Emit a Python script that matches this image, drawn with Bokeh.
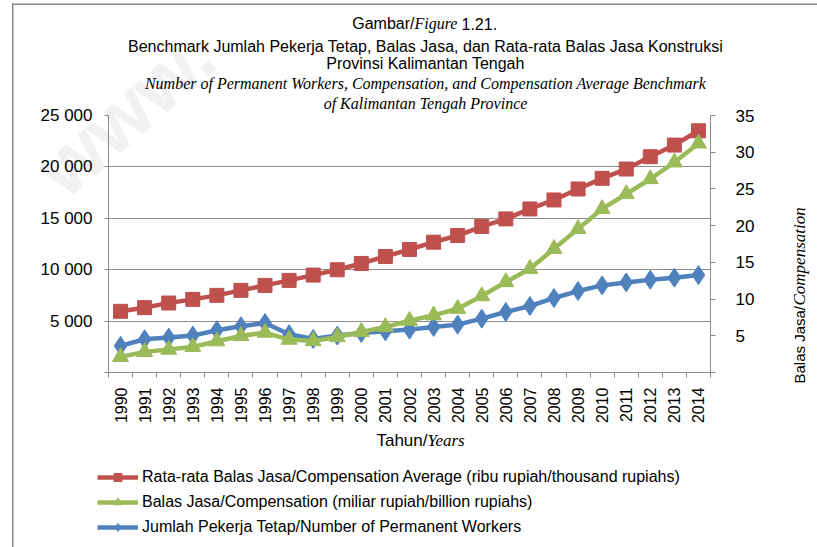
import math
from bokeh.plotting import figure
from bokeh.models import (Range1d, LinearAxis, FixedTicker, Legend, LegendItem,
                          Label, BoxAnnotation)
from bokeh.embed import file_html
from bokeh.resources import INLINE

# ---------------- data ----------------
years = list(range(1990, 2015))
avg_comp = [5951, 6307, 6760, 7115, 7503, 7989, 8474, 8959, 9476, 9994,
            10608, 11287, 11967, 12678, 13325, 14198, 14942, 15912, 16785, 17853,
            18888, 19793, 20990, 22122, 23512]
compensation = [2.13, 2.81, 3.12, 3.49, 4.26, 4.98, 5.43, 4.48, 4.30, 4.84,
                 5.52, 6.20, 7.06, 7.79, 8.69, 10.41, 12.32, 14.13, 16.84, 19.56,
                 22.28, 24.31, 26.35, 28.62, 31.20]
workers = [2587, 3234, 3396, 3590, 4107, 4495, 4819, 3719, 3266, 3590,
           3849, 4010, 4172, 4431, 4657, 5239, 5886, 6468, 7245, 7924,
           8474, 8765, 9023, 9217, 9476]

left_ticks = [0, 5000, 10000, 15000, 20000, 25000]
left_tick_labels = ["", "5 000", "10 000", "15 000", "20 000", "25 000"]
right_ticks = [0, 5, 10, 15, 20, 25, 30, 35]
right_tick_labels = ["", "5", "10", "15", "20", "25", "30", "35"]

series_names = [
    "Rata-rata Balas Jasa/Compensation Average (ribu rupiah/thousand rupiahs)",
    "Balas Jasa/Compensation (miliar rupiah/billion rupiahs)",
    "Jumlah Pekerja Tetap/Number of Permanent Workers",
]

RED = "#C0504D"
GREEN = "#9BBB59"
BLUE = "#4F81BD"
GRID = "#8c8c8c"
SANS = "Liberation Sans"
SERIF = "Liberation Serif"

W, H = 817, 547
FRAME_L, FRAME_T, FRAME_W, FRAME_H = 108, 115, 602, 257

# ======================= chart figure =======================
p = figure(output_backend="svg", toolbar_location=None,
           frame_width=FRAME_W, frame_height=FRAME_H,
           min_border_left=FRAME_L, min_border_top=FRAME_T,
           min_border_right=W - FRAME_L - FRAME_W,
           min_border_bottom=H - FRAME_T - FRAME_H,
           x_range=Range1d(1989.5, 2014.5), y_range=Range1d(0, 25000),
           background_fill_color=None, border_fill_color=None,
           styles={"position": "absolute", "left": "0px", "top": "0px", "z-index": "2"})
p.outline_line_color = None
p.extra_y_ranges = {"right": Range1d(0, 35)}

xa = p.xaxis[0]
xa.ticker = FixedTicker(ticks=years, minor_ticks=[y - 0.5 for y in years] + [years[-1] + 0.5])
xa.major_label_overrides = {y: str(y) for y in years}
xa.major_label_orientation = math.pi / 2
xa.major_tick_out = 0
xa.major_tick_in = 0
xa.minor_tick_out = 5
xa.minor_tick_in = 0
xa.major_label_standoff = 10
xa.axis_line_color = GRID
xa.minor_tick_line_color = GRID
xa.major_label_text_font = SANS
xa.major_label_text_font_size = "16px"
xa.major_label_text_color = "black"

ya = p.yaxis[0]
ya.ticker = FixedTicker(ticks=left_ticks, minor_ticks=[])
ya.major_label_overrides = dict(zip(left_ticks, left_tick_labels))
ya.major_tick_out = 4
ya.major_tick_in = 0
ya.major_label_standoff = 12
ya.axis_line_color = GRID
ya.major_tick_line_color = GRID
ya.major_label_text_font = SANS
ya.major_label_text_font_size = "17px"
ya.major_label_text_color = "black"

ra = LinearAxis(y_range_name="right")
ra.ticker = FixedTicker(ticks=right_ticks, minor_ticks=[])
ra.major_label_overrides = dict(zip(right_ticks, right_tick_labels))
ra.major_tick_out = 5
ra.major_tick_in = 0
ra.major_label_standoff = 20
ra.axis_line_color = GRID
ra.major_tick_line_color = GRID
ra.minor_tick_line_color = None
ra.major_label_text_font = SANS
ra.major_label_text_font_size = "17px"
ra.major_label_text_color = "black"
p.add_layout(ra, "right")

p.xgrid.visible = False
p.ygrid.ticker = FixedTicker(ticks=left_ticks[1:], minor_ticks=[])
p.ygrid.grid_line_color = GRID
p.ygrid.grid_line_width = 1

LW = 4.5
MARKERS = dict(
    red=dict(marker="square", size=14),
    green=dict(marker="triangle", size=16),
    blue=dict(marker="diamond", size=19),
)
p.line(years, workers, line_color=BLUE, line_width=LW)
p.scatter(years, workers, fill_color=BLUE, line_color=BLUE, **MARKERS["blue"])
p.line(years, avg_comp, line_color=RED, line_width=LW)
p.scatter(years, avg_comp, fill_color=RED, line_color=RED, **MARKERS["red"])
p.line(years, compensation, line_color=GREEN, line_width=LW, y_range_name="right")
p.scatter(years, compensation, fill_color=GREEN, line_color=GREEN, y_range_name="right",
          **MARKERS["green"])

# ======================= text / legend layer =======================
t = figure(output_backend="svg", toolbar_location=None, width=W, height=H,
           x_range=Range1d(0, W), y_range=Range1d(H, 0),
           x_axis_type=None, y_axis_type=None, min_border=0,
           background_fill_color="white", border_fill_color="white",
           styles={"position": "absolute", "left": "0px", "top": "0px", "z-index": "1"})
t.outline_line_color = None
t.grid.visible = False

# watermark and outer frame lines
t.add_layout(Label(x=125, y=112, text="www.", angle=0.72, text_font=SANS,
                   text_font_style="bold", text_font_size="80px", text_color="#f1f1f1",
                   text_align="center", text_baseline="middle"))
t.add_layout(BoxAnnotation(left=11.5, right=13, top=3, bottom=H, fill_color="#8a8a8a",
                           fill_alpha=1, line_color=None))
t.add_layout(BoxAnnotation(left=11.5, right=W, top=3, bottom=4.5, fill_color="#8a8a8a",
                           fill_alpha=1, line_color=None))


def lab(x, y, text, font=SANS, style="normal", size="16px", align="center",
        angle=0.0, line_height=1.2):
    t.add_layout(Label(x=x, y=y, text=text, text_font=font, text_font_style=style,
                       text_font_size=size, text_align=align, text_baseline="middle",
                       text_color="black", angle=angle, text_line_height=line_height))


# title
lab(414, 23, "Gambar/", align="right")
lab(414, 23, "Figure", font=SERIF, style="italic", align="left")
lab(461, 23, "1.21.", align="left")
lab(425, 54, "Benchmark Jumlah Pekerja Tetap, Balas Jasa, dan Rata-rata Balas Jasa Konstruksi\n"
             "Provinsi Kalimantan Tengah", line_height=1.0)
lab(425, 93, "Number of Permanent Workers, Compensation, and Compensation Average Benchmark\n"
             "of Kalimantan Tengah Province", font=SERIF, style="italic", line_height=1.125)

# x-axis title
lab(427, 440, "Tahun/", size="17px", align="right")
lab(427, 440, "Years", font=SERIF, style="italic", size="17px", align="left")

# right axis title (rotated)
lab(799, 383, "Balas Jasa/", size="15px", align="left", angle=math.pi / 2)
lab(799, 305, "Compensation", font=SERIF, style="italic", size="17px", align="left",
    angle=math.pi / 2)

# legend: sample glyphs styled like the chart series (a single NaN point, draws nothing)
nan = [float("nan")]
lr = t.line(nan, nan, line_color=RED, line_width=LW)
ls = t.scatter(nan, nan, fill_color=RED, line_color=RED, **MARKERS["red"])
gr = t.line(nan, nan, line_color=GREEN, line_width=LW)
gs = t.scatter(nan, nan, fill_color=GREEN, line_color=GREEN, **MARKERS["green"])
br = t.line(nan, nan, line_color=BLUE, line_width=LW)
bs = t.scatter(nan, nan, fill_color=BLUE, line_color=BLUE, **MARKERS["blue"])
legend = Legend(items=[
    LegendItem(label=series_names[0], renderers=[lr, ls]),
    LegendItem(label=series_names[1], renderers=[gr, gs]),
    LegendItem(label=series_names[2], renderers=[br, bs]),
], location=(97, 10), orientation="vertical",
    glyph_width=41, glyph_height=20, label_height=20, spacing=5, label_standoff=4,
    padding=0, margin=0, border_line_color=None, background_fill_alpha=0,
    label_text_font=SANS, label_text_font_size="16px", label_text_color="black")
t.add_layout(legend)

open("out.html", "w").write(file_html((t, p), INLINE))
